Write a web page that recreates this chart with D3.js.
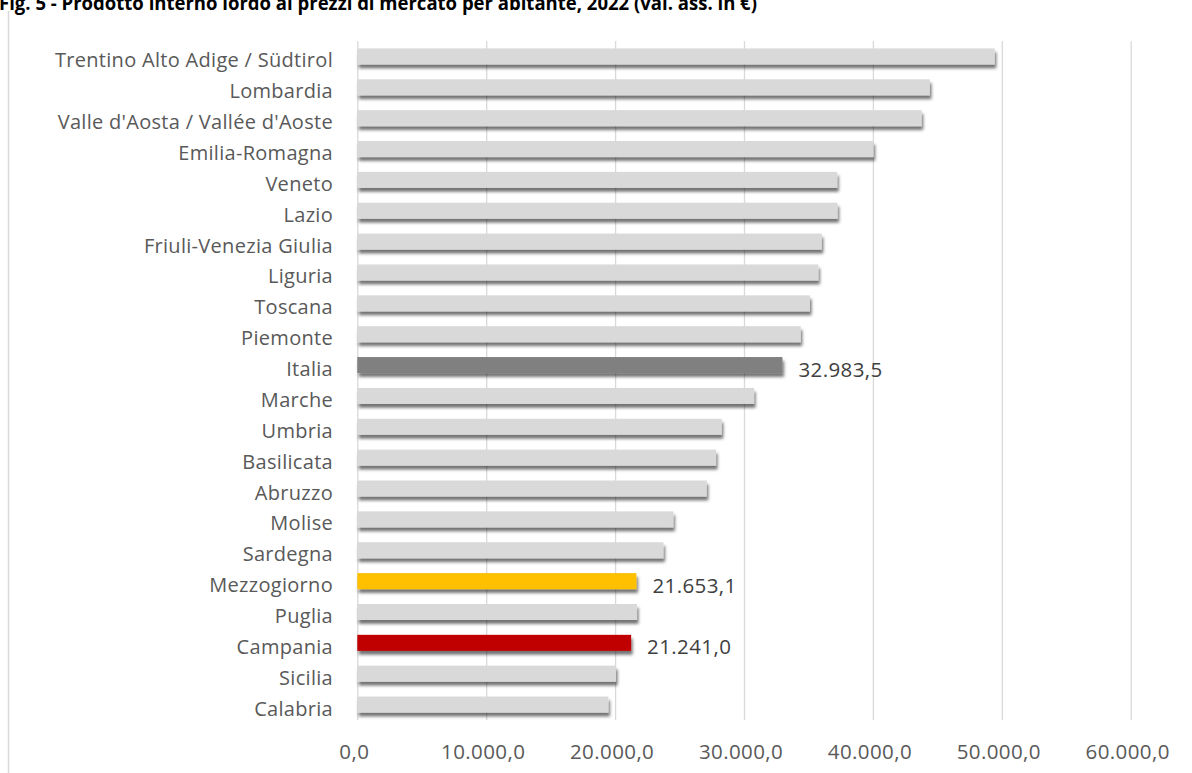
<!DOCTYPE html>
<html>
<head>
<meta charset="utf-8">
<script src="https://cdn.jsdelivr.net/npm/d3@7"></script>
<style>
  html, body { margin: 0; padding: 0; background: #fff; }
  svg { display: block; }
  text { font-family: "Open Sans", Lato, "Liberation Sans", sans-serif; }
</style>
</head>
<body>
<svg id="chart" width="1192" height="773"></svg>
<script>
// Regional GDP per inhabitant at market prices, 2022 (euro)
const categories = [
  "Trentino Alto Adige / Südtirol", "Lombardia", "Valle d'Aosta / Vallée d'Aoste",
  "Emilia-Romagna", "Veneto", "Lazio", "Friuli-Venezia Giulia", "Liguria",
  "Toscana", "Piemonte", "Italia", "Marche", "Umbria", "Basilicata", "Abruzzo",
  "Molise", "Sardegna", "Mezzogiorno", "Puglia", "Campania", "Sicilia", "Calabria"
];
const values = [
  49450, 44420, 43780,
  40050, 37230, 37260, 36030, 35770,
  35120, 34400, 32983.5, 30780, 28270, 27830, 27110,
  24520, 23750, 21653.1, 21700, 21241.0, 20070, 19480
];
const tickValues = [0, 10000, 20000, 30000, 40000, 50000, 60000];
const labelledCategories = ["Italia", "Mezzogiorno", "Campania"];
const titleText = "Fig. 5 - Prodotto interno lordo ai prezzi di mercato per abitante, 2022 (val. ass. in €)";

// Bar colours: aggregates and the focus region stand out from the grey regions
const highlightColors = { "Italia": "#808080", "Mezzogiorno": "#FFC000", "Campania": "#C00000" };
const baseColor = "#D9D9D9";

const itLocale = d3.formatLocale({ decimal: ",", thousands: ".", grouping: [3], currency: ["€", ""] });
const fmt = itLocale.format(",.1f");

const svg = d3.select("#chart");

const data = categories.map((c, i) => ({ cat: c, val: values[i] }));

const plot = { left: 357.3, right: 1130.7, top: 41, bottom: 720 };

const x = d3.scaleLinear().domain([0, 60000]).range([plot.left, plot.right]);
const y = d3.scaleBand().domain(categories).range([plot.top, plot.bottom])
  .paddingInner(0.48).paddingOuter(0.24);

// Drop shadow under the bars
const defs = svg.append("defs");
const f = defs.append("filter").attr("id", "barShadow")
  .attr("x", "-5%").attr("y", "-50%").attr("width", "110%").attr("height", "220%");
f.append("feDropShadow").attr("dx", 1.5).attr("dy", 3.8).attr("stdDeviation", 1.4)
  .attr("flood-color", "#000").attr("flood-opacity", 0.55);

// Chart frame: left edge
svg.append("line").attr("x1", 8.5).attr("x2", 8.5).attr("y1", 11).attr("y2", 773)
  .attr("stroke", "#D9D9D9").attr("stroke-width", 1.5);

// Title (partly cut by the top edge)
svg.append("text").attr("x", -1).attr("y", 9.5)
  .attr("font-size", 19.5).attr("font-weight", "bold").attr("fill", "#000")
  .attr("font-family", "Lato, 'Open Sans', sans-serif")
  .attr("textLength", 758).attr("lengthAdjust", "spacingAndGlyphs")
  .text(titleText);

// Vertical gridlines
const grid = svg.append("g").attr("transform", `translate(0,${plot.top})`)
  .call(d3.axisBottom(x).tickValues(tickValues).tickSize(plot.bottom - plot.top).tickFormat(""));
grid.select(".domain").remove();
grid.selectAll(".tick line").attr("stroke", "#D9D9D9").attr("stroke-width", 1.3);

// Bars
svg.append("g").selectAll("rect").data(data).join("rect")
  .attr("x", x(0))
  .attr("y", d => y(d.cat))
  .attr("width", d => x(d.val) - x(0))
  .attr("height", y.bandwidth())
  .attr("fill", d => highlightColors[d.cat] || baseColor)
  .attr("filter", "url(#barShadow)");

// Category labels
svg.append("g").selectAll("text").data(data).join("text")
  .attr("x", 333)
  .attr("y", d => y(d.cat) + y.bandwidth() / 2 + 11)
  .attr("text-anchor", "end")
  .attr("font-size", 20)
  .attr("letter-spacing", 0.3)
  .attr("fill", "#595959")
  .text(d => d.cat);

// Value labels for the highlighted bars
svg.append("g").selectAll("text").data(data.filter(d => labelledCategories.includes(d.cat))).join("text")
  .attr("x", d => x(d.val) + 16)
  .attr("y", d => y(d.cat) + y.bandwidth() / 2 + 11.5)
  .attr("font-size", 20.5)
  .attr("letter-spacing", 0.4)
  .attr("fill", "#404040")
  .text(d => fmt(d.val));

// Value axis labels
const axis = svg.append("g").attr("transform", `translate(-3.5,${plot.bottom})`)
  .call(d3.axisBottom(x).tickValues(tickValues).tickSize(0).tickFormat(fmt));
axis.select(".domain").remove();
axis.selectAll(".tick text")
  .attr("y", 38.5).attr("dy", 0)
  .attr("font-size", 20.5)
  .attr("letter-spacing", 0.4)
  .attr("font-family", "'Open Sans', Lato, sans-serif")
  .attr("fill", "#595959");
</script>
</body>
</html>
